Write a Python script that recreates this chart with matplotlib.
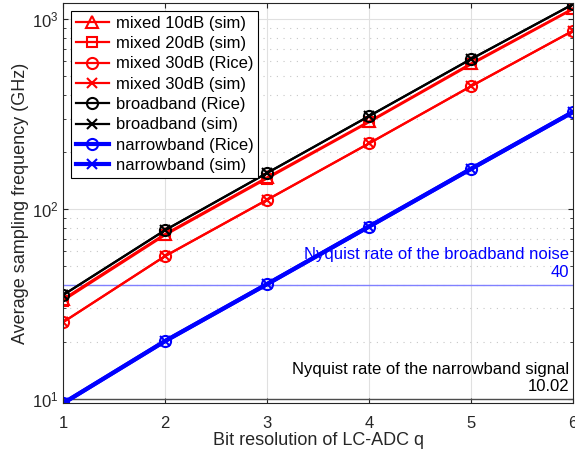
import numpy as np
import matplotlib
matplotlib.use("Agg")
from matplotlib import pyplot as plt

plt.rcParams['font.family'] = ['Liberation Sans', 'DejaVu Sans']

q = [1, 2, 3, 4, 5, 6]
mixed10_sim = [33.6, 74, 147, 290, 585, 1140]
mixed20_sim = [33.0, 73, 145, 287, 578, 1130]
mixed30_rice = [25.4, 56.6, 112, 222, 444, 870]
mixed30_sim = [25.4, 56.6, 112, 222, 444, 870]
broad_rice = [35.3, 77.5, 155, 309, 617, 1200]
broad_sim = [35.3, 77.5, 155, 309, 617, 1200]
narrow_rice = [9.5, 20.2, 40.3, 81, 163, 325]
narrow_sim = [9.5, 20.2, 40.3, 81, 163, 325]
nyq_broad = 40
nyq_narrow = 10.02

fig = plt.figure(figsize=(5.75, 4.57), dpi=100)
ax = fig.add_axes([0.1096, 0.118, 0.887, 0.875])

ax.axhline(nyq_broad, color=(0.5, 0.5, 1.0), lw=1, zorder=1)
ax.axhline(nyq_narrow, color=(0.3, 0.3, 0.3), lw=1, zorder=1)

ax.plot(q, mixed10_sim, "r-^", lw=1.6, ms=8, mfc="none", mew=1.5, label="mixed 10dB (sim)")
ax.plot(q, mixed20_sim, "r-s", lw=1.6, ms=7, mfc="none", mew=1.5, label="mixed 20dB (sim)")
ax.plot(q, mixed30_rice, "r-o", lw=1.6, ms=8, mfc="none", mew=1.5, label="mixed 30dB (Rice)")
ax.plot(q, mixed30_sim, "r-x", lw=1.6, ms=7, mew=1.5, label="mixed 30dB (sim)")
ax.plot(q, broad_rice, "k-o", lw=1.6, ms=8, mfc="none", mew=1.5, label="broadband (Rice)")
ax.plot(q, broad_sim, "k-x", lw=1.6, ms=7, mew=1.5, label="broadband (sim)")
ax.plot(q, narrow_rice, "b-o", lw=3, ms=8, mfc="none", mew=1.5, label="narrowband (Rice)")
ax.plot(q, narrow_sim, "b-x", lw=3, ms=7, mew=1.5, label="narrowband (sim)")

ax.set_yscale("log")
ax.set_xlim(1, 6)
ax.set_ylim(9.53, 1215)
ax.set_xticks(q)
ax.grid(True, which="major", color=(0.88, 0.88, 0.88), lw=0.8)
ax.grid(True, which="minor", axis="y", color=(0.78, 0.78, 0.78), ls=(0, (1, 5)), lw=0.8)
ax.set_axisbelow(True)
ax.tick_params(which="both", direction="in", top=True, right=True, labelsize=12, colors=(0.15, 0.15, 0.15))
ax.tick_params(axis="x", pad=9)
for s in ax.spines.values():
    s.set_color((0.15, 0.15, 0.15))

ax.set_xlabel("Bit resolution of LC-ADC q", fontsize=13, color=(0.15, 0.15, 0.15), labelpad=1)
ax.set_ylabel("Average sampling frequency (GHz)", fontsize=13, color=(0.15, 0.15, 0.15), labelpad=2)

ax.text(5.96, 42.5, "Nyquist rate of the broadband noise\n40", color="b", fontsize=12,
        ha="right", va="bottom", linespacing=1.2)
ax.text(5.96, 10.6, "Nyquist rate of the narrowband signal\n10.02", color="k", fontsize=12,
        ha="right", va="bottom", linespacing=1.2)

leg = ax.legend(loc="upper left", fontsize=12, fancybox=False, framealpha=1,
                edgecolor="k", handlelength=2.0, handletextpad=0.4, borderaxespad=0.45,
                labelspacing=0.32, borderpad=0.3)
leg.get_frame().set_linewidth(0.8)

fig.savefig("out.png", dpi=100)
